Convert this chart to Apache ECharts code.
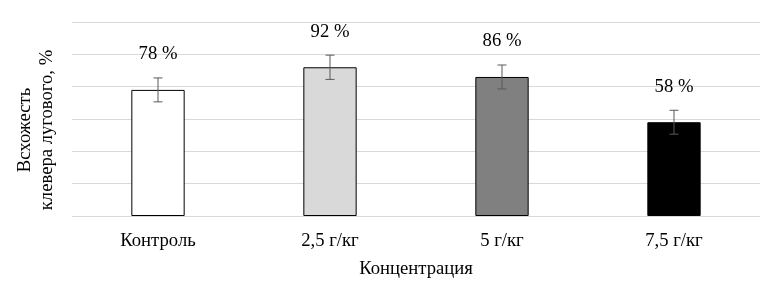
<!DOCTYPE html>
<html><head><meta charset="utf-8">
<script src="https://cdn.jsdelivr.net/npm/echarts@6/dist/echarts.min.js"></script>
<style>html,body{margin:0;padding:0;background:#fff}#c{width:783px;height:303px}</style>
</head><body><div id="c"></div>
<script>
var categories = ['Контроль', '2,5 г/кг', '5 г/кг', '7,5 г/кг'];
var values = [78, 92, 86, 58];
var errors = [7.4, 7.5, 7.4, 7.4];
var barColors = ['#ffffff', '#d9d9d9', '#808080', '#000000'];
var yTicks = [0, 20, 40, 60, 80, 100, 120];

var chart = echarts.init(document.getElementById('c'));
var font = '"Liberation Serif", "Times New Roman", serif';
chart.setOption({
  animation: false,
  grid: {left: 72, right: 23, top: 22, bottom: 87, containLabel: false, outerBoundsMode: 'none'},
  xAxis: {
    type: 'category', data: categories,
    axisLine: {show: false}, axisTick: {show: false},
    axisLabel: {fontFamily: font, fontSize: 18.67, color: '#000', margin: 16},
    name: 'Концентрация', nameLocation: 'middle', nameGap: 44,
    nameTextStyle: {fontFamily: font, fontSize: 18.67, color: '#000'}
  },
  yAxis: {
    type: 'value', min: yTicks[0], max: yTicks[yTicks.length - 1], interval: 20,
    axisLabel: {show: false}, axisLine: {show: false}, axisTick: {show: false},
    splitLine: {lineStyle: {color: '#d9d9d9', width: 1}},
    name: 'Всхожесть\nклевера лугового, %', nameLocation: 'middle', nameGap: 14,
    nameTextStyle: {fontFamily: font, fontSize: 18.67, color: '#000', lineHeight: 22, padding: [0, 22, 0, 0]}
  },
  series: [{
    type: 'bar', barWidth: '31%',
    data: values.map(function (v, i) {
      return {value: v, itemStyle: {color: barColors[i], borderColor: '#000', borderWidth: 1}};
    }),
    label: {show: true, position: 'top', distance: 26, formatter: '{c} %',
      fontFamily: font, fontSize: 18.67, color: '#000'}
  }, {
    type: 'custom', z: 10,
    data: values.map(function (v, i) { return [i, v - errors[i], v + errors[i]]; }),
    renderItem: function (params, api) {
      var lo = api.coord([api.value(0), api.value(1)]);
      var hi = api.coord([api.value(0), api.value(2)]);
      var w = 4.5;
      var st = {stroke: '#595959', lineWidth: 1};
      return {type: 'group', children: [
        {type: 'line', shape: {x1: lo[0], y1: lo[1], x2: hi[0], y2: hi[1]}, style: st},
        {type: 'line', shape: {x1: lo[0] - w, y1: lo[1], x2: lo[0] + w, y2: lo[1]}, style: st},
        {type: 'line', shape: {x1: hi[0] - w, y1: hi[1], x2: hi[0] + w, y2: hi[1]}, style: st}
      ]};
    }
  }]
});
</script></body></html>
